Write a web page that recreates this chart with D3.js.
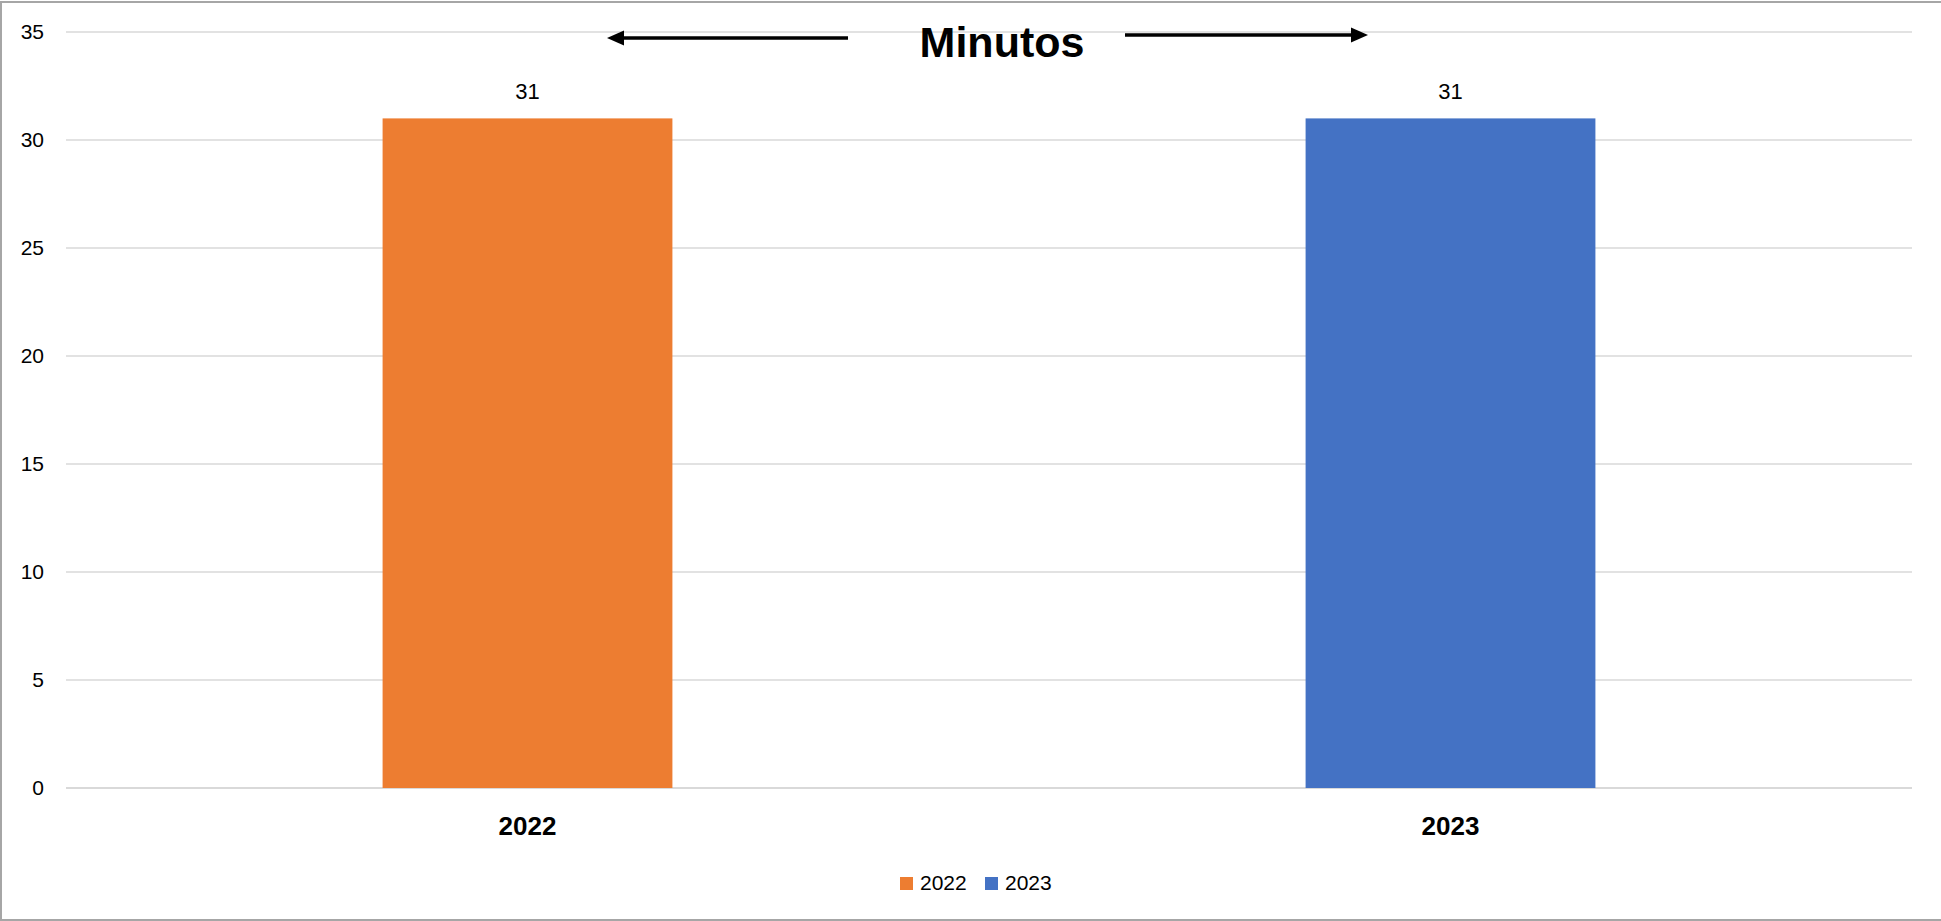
<!DOCTYPE html>
<html>
<head>
<meta charset="utf-8">
<script src="https://cdn.jsdelivr.net/npm/d3@7"></script>
<style>
  body { margin: 0; background: #fff; }
  text { font-family: "Liberation Sans", Arial, sans-serif; fill: #000; }
</style>
</head>
<body>
<div id="chart"></div>
<script>
// Minutos por año
const years = ["2022", "2023"];
const minutes = [31, 31];
const colors = ["#ED7D31", "#4472C4"];
const yTicks = [0, 5, 10, 15, 20, 25, 30, 35];
const title = "Minutos";

const W = 1941, H = 921;
const margin = {top: 32, right: 29, bottom: 133, left: 66};

const svg = d3.select("#chart").append("svg")
  .attr("width", W).attr("height", H);

// outer frame
svg.append("path")
  .attr("d", `M${W},2 H1 V${H - 1} H${W}`)
  .attr("fill", "none").attr("stroke", "#a6a6a6").attr("stroke-width", 2);

const x = d3.scaleBand().domain(years)
  .range([margin.left, W - margin.right])
  .paddingInner(0.686).paddingOuter(0.343);
const y = d3.scaleLinear().domain([0, 35]).range([H - margin.bottom, margin.top]);

// gridlines
svg.append("g").selectAll("line").data(yTicks).join("line")
  .attr("x1", margin.left).attr("x2", W - margin.right)
  .attr("y1", d => y(d)).attr("y2", d => y(d))
  .attr("stroke", "#d9d9d9").attr("stroke-width", d => d === 0 ? 2.2 : 1.5);

// y axis labels
const yAxis = svg.append("g").attr("transform", `translate(${margin.left - 22},0)`)
  .call(d3.axisLeft(y).tickValues(yTicks).tickSize(0).tickPadding(0));
yAxis.select(".domain").remove();
yAxis.selectAll("text").style("font-size", "21px").attr("font-family", null);

// bars
svg.selectAll("rect.bar").data(years).join("rect")
  .attr("class", "bar")
  .attr("x", d => x(d)).attr("width", x.bandwidth())
  .attr("y", (d, i) => y(minutes[i]))
  .attr("height", (d, i) => y(0) - y(minutes[i]))
  .attr("fill", (d, i) => colors[i]);

// value labels
svg.selectAll("text.value").data(years).join("text")
  .attr("class", "value")
  .attr("x", d => x(d) + x.bandwidth() / 2)
  .attr("y", (d, i) => y(minutes[i]) - 19)
  .attr("text-anchor", "middle").style("font-size", "22px")
  .text((d, i) => minutes[i]);

// x axis labels
const xAxis = svg.append("g").attr("transform", `translate(0,${y(0)})`)
  .call(d3.axisBottom(x).tickSize(0).tickPadding(29));
xAxis.select(".domain").remove();
xAxis.selectAll("text").style("font-size", "26px").style("font-weight", "bold")
  .attr("font-family", null);

// title with arrows
const tx = 1002, ty = 57;
svg.append("text").attr("x", tx).attr("y", ty).attr("text-anchor", "middle")
  .style("font-size", "43px").style("font-weight", "bold").text(title);

const arrows = svg.append("g").attr("fill", "#000").attr("stroke", "#000");
// left arrow
arrows.append("line").attr("x1", 848).attr("x2", 620).attr("y1", 38).attr("y2", 38)
  .attr("stroke-width", 3.5);
arrows.append("path").attr("d", "M607,38 L624,30.5 L624,45.5 Z").attr("stroke", "none");
// right arrow
arrows.append("line").attr("x1", 1125).attr("x2", 1355).attr("y1", 35).attr("y2", 35)
  .attr("stroke-width", 3.5);
arrows.append("path").attr("d", "M1368,35 L1351,27.5 L1351,42.5 Z").attr("stroke", "none");

// legend
const legend = svg.append("g").attr("transform", "translate(900,877)");
const item = legend.selectAll("g").data(years).join("g")
  .attr("transform", (d, i) => `translate(${i * 85},0)`);
item.append("rect").attr("width", 13).attr("height", 13)
  .attr("fill", (d, i) => colors[i]);
item.append("text").attr("x", 20).attr("y", 13).style("font-size", "21px")
  .text(d => d);
</script>
</body>
</html>
